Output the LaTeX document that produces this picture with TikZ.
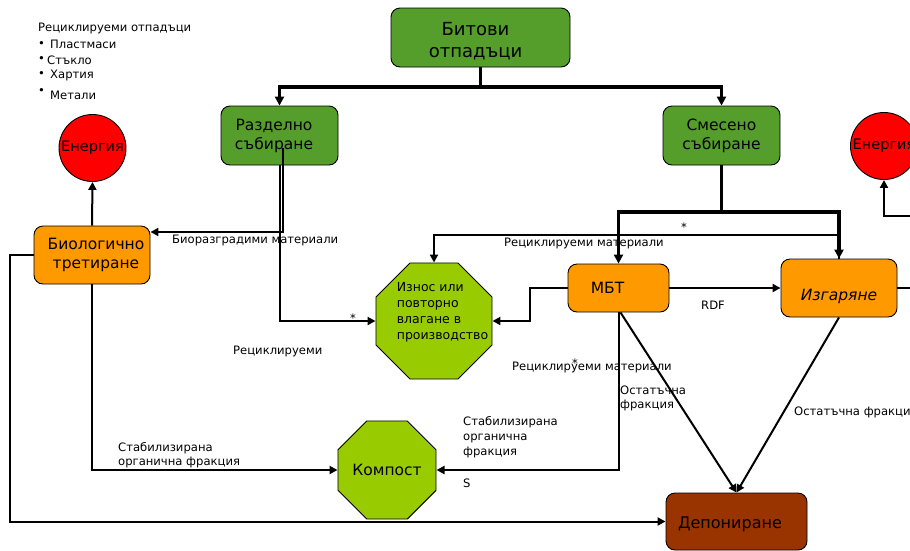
\documentclass[tikz,border=0pt]{standalone}
\usepackage{fontspec}
\setmainfont{DejaVu Sans}
\usetikzlibrary{shapes.geometric,arrows.meta,calc}
\definecolor{gdark}{HTML}{559E2B}
\definecolor{glime}{HTML}{99CC00}
\definecolor{orng}{HTML}{FF9900}
\definecolor{brwn}{HTML}{993300}
\definecolor{enred}{HTML}{FF0000}
\begin{document}
\begin{tikzpicture}[x=1pt,y=-1pt,
  box/.style={draw=black,line width=0.9pt,rounded corners=9pt,inner sep=0pt,align=center,font=\fontsize{15.5}{19}\selectfont},
  octa/.style={draw=black,line width=0.9pt,regular polygon,regular polygon sides=8,inner sep=0pt,fill=glime},
  encirc/.style={circle,draw=black,line width=0.9pt,fill=enred,inner sep=0pt,minimum size=67pt,font=\fontsize{14.5}{17}\selectfont},
  conn/.style={line width=2pt,-{Triangle[length=8pt,width=8pt]}},
  thk/.style={line width=3.5pt},
  thkarr/.style={line width=3.5pt,-{Triangle[length=9pt,width=9pt]}},
  lbl/.style={inner sep=0pt,anchor=west,align=left,font=\fontsize{11.6}{14}\selectfont},
]
\path[use as bounding box] (0,0) rectangle (910,550);
\clip (0,0) rectangle (910,550);

% nodes
\node[box,fill=gdark,minimum width=179pt,minimum height=59pt,font=\fontsize{18}{22}\selectfont] (top) at (480.5,37.5) {\rule{0pt}{21pt}Битови\hspace*{10pt}\\отпадъци\hspace*{10pt}};
\node[box,fill=gdark,minimum width=117pt,minimum height=59pt] (razd) at (279.5,135.5) {Разделно\hspace*{11pt}\\събиране\hspace*{11pt}};
\node[box,fill=gdark,minimum width=117pt,minimum height=59pt] (smes) at (721.5,135.5) {Смесено\\събиране};
\node[box,fill=orng,minimum width=116pt,minimum height=58pt] (bio) at (92,255) {\hspace*{8pt}Биологично\\\hspace*{8pt}третиране};
\node[box,fill=orng,minimum width=101pt,minimum height=48pt] (mbt) at (618.5,288) {МБТ\hspace*{22pt}};
\node[box,fill=orng,minimum width=116pt,minimum height=58pt] (izg) at (839,288) {};
\node[inner sep=0pt,font=\fontsize{15.5}{19}\selectfont\itshape] (izgt) at (839,296) {Изгаряне};
\node[box,fill=brwn,minimum width=141pt,minimum height=57pt,font=\fontsize{16}{19}\selectfont] (dep) at (736.5,521.5) {\rule{0pt}{17pt}Депониране\hspace*{13pt}};
\node[octa,minimum size=125.6pt] (izn) at (434,321) {};
\node[align=left,inner sep=0pt,font=\fontsize{12.5}{16}\selectfont] (iznt) at (442.5,312) {Износ или\\повторно\\влагане в\\производство};
\node[octa,minimum size=102.8pt,font=\fontsize{15.5}{19}\selectfont] (kom) at (387,470) {Компост};
\node[encirc] (en1) at (92.5,148) {Енергия};
\node[encirc] (en2) at (884,146) {Енергия};

% connectors
\coordinate (j1) at (480.5,87);
\draw[thk] (top.south) -- (j1);
\draw[thkarr] (j1) -| (razd.north);
\draw[thkarr] (j1) -| (smes.north);

\draw[conn] (izg.north) -- ++(0,-24) -| (izn.north);
\coordinate (j2) at (721.5,212);
\draw[thk] (smes.south) -- (j2);
\draw[thkarr] (j2) -| (mbt.north);
\draw[thkarr] (j2) -| (izg.north);

\draw[conn] ($(razd.center)+(3,12.5)$) |- ([yshift=23pt]bio.east);
\draw[conn] (razd.south) |- (izn.west);
\draw[conn] (mbt.west) -- ++(-38,0) |- (izn.east);
\draw[conn] (mbt.east) -- (izg.west);
\draw[conn] (mbt.south) |- (kom.east);
\draw[conn] ([xshift=2pt]mbt.south) -- (dep.north);
\draw[conn] (izg.south) -- (dep.north);
\coordinate (off) at (940,216);
\draw[conn] (izg.east) -| (off) -| (en2.south);
\draw[conn] (bio.north) -- (en1.south);
\draw[conn] (bio.south) |- (kom.west);
\draw[conn] (bio.west) -- ++(-24,0) |- (dep.west);

% labels
\node[lbl] (l1) at (172,240) {Биоразградими материали};
\node[lbl] (l2) at (350,318) {*};
\node[lbl] (l3) at (233,351) {Рециклируеми};
\node[lbl] (l4) at (504,243) {Рециклируеми материали};
\node[lbl] (l5) at (681,227) {*};
\node[lbl] (l6) at (701,305) {RDF};
\node[lbl] (l7) at (512,367) {Рециклируеми материали};
\node[lbl] (l7s) at (572,363) {*};
\node[lbl] (l8) at (620,398.5) {Остатъчна\\фракция};
\node[lbl] (l9) at (794,412) {Остатъчна фракция};
\node[lbl,font=\fontsize{11.6}{15}\selectfont] (l10) at (463,437) {Стабилизирана\\органична\\фракция};
\node[lbl] (l11) at (463,483) {S};
\node[lbl] (l12) at (118,455.5) {Стабилизирана\\органична фракция};

% recyclable list
\node[lbl] (rt) at (38,28.5) {Рециклируеми отпадъци};
\node[lbl] (b1) at (38,45) {•};
\node[lbl] (t1) at (50,44.5) {Пластмаси};
\node[lbl] (b2) at (38,60) {•};
\node[lbl] (t2) at (47,60) {Стъкло};
\node[lbl] (b3) at (38,75) {•};
\node[lbl] (t3) at (50,75) {Хартия};
\node[lbl] (b4) at (38,91) {•};
\node[lbl] (t4) at (50,95) {Метали};
\end{tikzpicture}
\end{document}
